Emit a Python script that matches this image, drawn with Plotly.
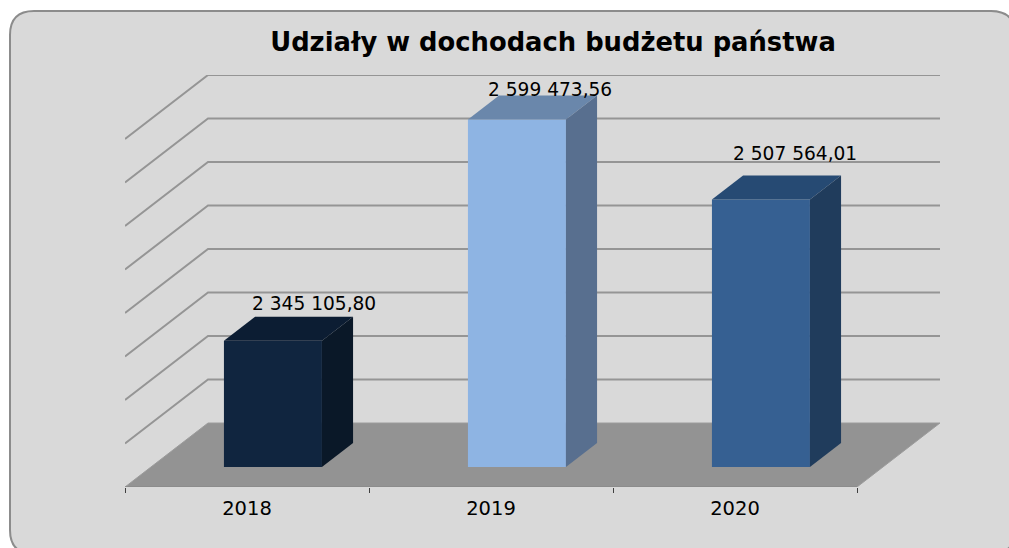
import plotly.graph_objects as go

# ---- data ----
categories = ["2018", "2019", "2020"]
values = [2345105.80, 2599473.56, 2507564.01]
value_labels = ["2 345 105,80", "2 599 473,56", "2 507 564,01"]
title_text = "Udziały w dochodach budżetu państwa"
axis_min = 2200000
axis_max = 2600000
axis_step = 50000

# ---- styles ----
front_colors = ["#10253F", "#8EB4E3", "#366092"]
top_colors = ["#0C1D33", "#6A87AB", "#264A73"]
side_colors = ["#0A1828", "#586F8F", "#203C5C"]
label_shift_px = [(41, 37), (33, 30), (34, 46)]

W, H = 1009, 548
L, T, R, B = 125, 75, 940, 487           # plot area in pixels
CAT_PX = 244.0                            # one category in pixels
UNIT_PX = 43.5 / axis_step                # pixels per value unit
DEPTH_X = 83 / CAT_PX                     # oblique depth in category units
DEPTH_Y = 64 / UNIT_PX                    # oblique depth in value units
D0, D1 = 0.3125, 0.6875                   # bar front / back depth
BAR_W = 98 / CAT_PX
n = len(categories)

x_range = [0, (R - L) / CAT_PX]
y_range = [axis_min, axis_min + (B - T) / UNIT_PX]


def proj(cat, val, depth):
    return cat + depth * DEPTH_X, val + depth * DEPTH_Y


def poly(points, color, axes=("x", "y"), line=None):
    xs, ys = zip(*points)
    return go.Scatter(
        x=list(xs) + [xs[0]], y=list(ys) + [ys[0]], mode="lines", fill="toself",
        fillcolor=color, line=dict(width=line[1] if line else 0, color=line[0] if line else color),
        hoverinfo="skip", showlegend=False, xaxis=axes[0], yaxis=axes[1],
    )


fig = go.Figure()

# floor
fig.add_trace(poly([proj(0, axis_min, 0), proj(n, axis_min, 0),
                    proj(n, axis_min, 1), proj(0, axis_min, 1)], "#939393",
                   line=("#9c9c9c", 1)))

# wall gridlines
k = axis_min + axis_step
while k <= axis_max:
    a, b, c = proj(0, k, 0), proj(0, k, 1), proj(n, k, 1)
    fig.add_trace(go.Scatter(x=[a[0], b[0], c[0]], y=[a[1], b[1], c[1]], mode="lines",
                             line=dict(color="#959595", width=2), hoverinfo="skip", showlegend=False))
    k += axis_step

# floor front edge
fig.add_trace(go.Scatter(x=[0, n], y=[axis_min, axis_min], mode="lines",
                         line=dict(color="#808080", width=1.2), hoverinfo="skip", showlegend=False))

# bars (front faces) on an overlay so they sit above the walls
centres = [i + 0.5 for i in range(n)]
fig.add_trace(go.Bar(
    x=[c + D0 * DEPTH_X for c in centres],
    y=[v - axis_min for v in values],
    base=axis_min + D0 * DEPTH_Y,
    width=BAR_W,
    marker=dict(color=front_colors, line=dict(width=0)),
    hoverinfo="skip", showlegend=False, xaxis="x2", yaxis="y2",
))

# top and side faces
for c, v, tc, sc in zip(centres, values, top_colors, side_colors):
    xl = c - BAR_W / 2
    xr = c + BAR_W / 2
    fig.add_trace(poly([proj(xl, v, D0), proj(xr, v, D0), proj(xr, v, D1), proj(xl, v, D1)], tc, ("x2", "y2")))
    fig.add_trace(poly([proj(xr, axis_min, D0), proj(xr, axis_min, D1), proj(xr, v, D1), proj(xr, v, D0)], sc, ("x2", "y2")))

# value labels
for c, v, lab, (sx, sy) in zip(centres, values, value_labels, label_shift_px):
    px, py = proj(c, v, D0)
    fig.add_annotation(x=px, y=py, xref="x2", yref="y2", text=lab, showarrow=False,
                       xshift=sx, yshift=sy, font=dict(family="DejaVu Sans", size=18.6, color="#000000"))


# rounded chart frame
def px_x(p):
    return (p - L) / (R - L)


def px_y(p):
    return (B - p) / (B - T)


fx0, fy0, fx1, fy1, r = 10, 11, 1015, 554, 24
frame = (
    f"M {px_x(fx0)} {px_y(fy0 + r)} Q {px_x(fx0)} {px_y(fy0)} {px_x(fx0 + r)} {px_y(fy0)} "
    f"L {px_x(fx1 - r)} {px_y(fy0)} Q {px_x(fx1)} {px_y(fy0)} {px_x(fx1)} {px_y(fy0 + r)} "
    f"L {px_x(fx1)} {px_y(fy1 - r)} Q {px_x(fx1)} {px_y(fy1)} {px_x(fx1 - r)} {px_y(fy1)} "
    f"L {px_x(fx0 + r)} {px_y(fy1)} Q {px_x(fx0)} {px_y(fy1)} {px_x(fx0)} {px_y(fy1 - r)} Z"
)

fig.update_layout(
    width=W, height=H,
    margin=dict(l=L, r=W - R, t=T, b=H - B, autoexpand=False),
    paper_bgcolor="#FFFFFF", plot_bgcolor="rgba(0,0,0,0)",
    showlegend=False, barmode="overlay",
    title=dict(text=title_text, x=553 / W, xanchor="center", y=1 - 42 / H, yanchor="middle",
               font=dict(family="DejaVu Sans", size=25.8, color="#000000", weight="bold")),
    xaxis=dict(range=x_range, tickmode="array", tickvals=centres, ticktext=categories,
               ticks="", showgrid=False, zeroline=False, showline=False, ticklabelstandoff=7,
               tickfont=dict(family="DejaVu Sans", size=19.5, color="#000000"),
               minor=dict(tickmode="array", tickvals=list(range(n + 1)), ticks="outside",
                          ticklen=5, tickwidth=1, tickcolor="#404040", showgrid=False)),
    yaxis=dict(range=y_range, visible=False),
    xaxis2=dict(range=x_range, overlaying="x", visible=False),
    yaxis2=dict(range=y_range, overlaying="y", visible=False),
    shapes=[dict(type="path", path=frame, xref="paper", yref="paper", layer="below",
                 fillcolor="#D9D9D9", line=dict(color="#8C8C8C", width=2))],
)

fig.write_html("out.html", config={"displayModeBar": False},
               post_script="document.body.style.margin='0';document.documentElement.style.overflow='hidden';")
